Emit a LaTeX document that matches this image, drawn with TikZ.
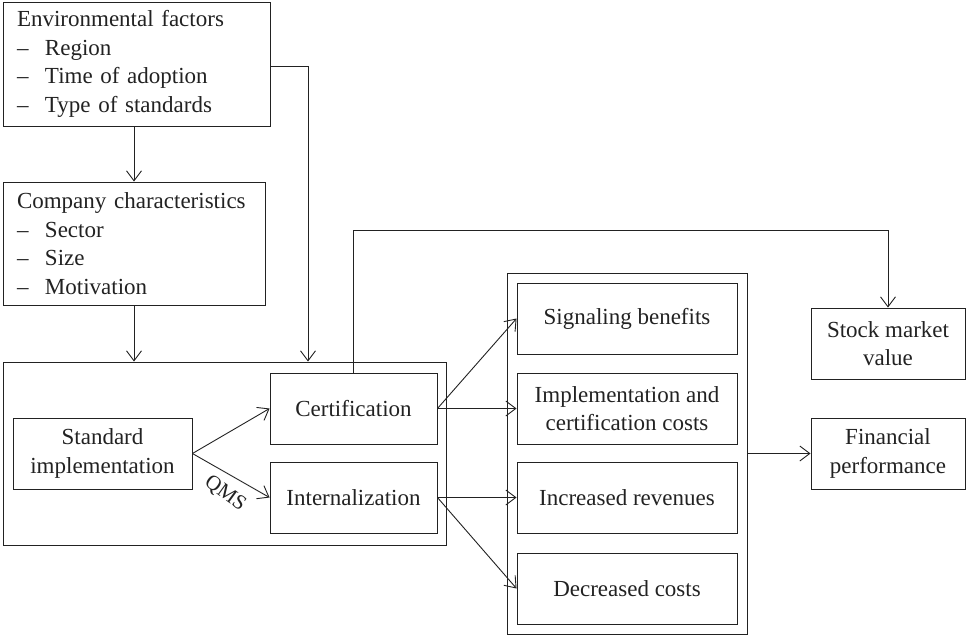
\documentclass[tikz,border=0pt]{standalone}
\usepackage{fontspec}
\setmainfont{Liberation Serif}
\usetikzlibrary{arrows.meta}
\definecolor{ink}{HTML}{222222}
\begin{document}
\begin{tikzpicture}[x=1pt,y=-1pt,
  every node/.style={font=\fontsize{23}{28.5}\selectfont, text=ink},
  box/.style={draw=ink, line width=0.9pt, inner sep=0pt, align=center, minimum height=71pt},
  listbox/.style={draw=ink, line width=0.9pt, align=left, inner xsep=14pt, inner ysep=0pt},
  arr/.style={draw=ink, line width=0.9pt, -{Straight Barb[length=10pt,width=15pt,line width=0.9pt]}},
]
\useasboundingbox (0,0) rectangle (966,635);
\newcommand{\dashitem}[1]{\makebox[28pt][l]{\textendash}#1}

% context boxes on the left
\node[listbox, text width=239pt, minimum height=124pt] (env) at (136.5,64)
  {Environmental factors\\ \dashitem{Region}\\ \dashitem{Time of adoption}\\ \dashitem{Type of standards}};
\node[listbox, text width=234pt, minimum height=123pt] (comp) at (134,243.5)
  {Company characteristics\\ \dashitem{Sector}\\ \dashitem{Size}\\ \dashitem{Motivation}};

% implementation frame
\node[box, minimum width=443pt, minimum height=183pt] (frame) at (224.5,453.5) {};
\node[box, minimum width=179pt] (std) at (102.5,453.5) {Standard\\implementation};
\node[box, minimum width=167pt] (cert) at (353.5,408.5) {Certification};
\node[box, minimum width=167pt] (intern) at (353.5,497.5) {Internalization};

% effects frame
\node[box, minimum width=240pt, minimum height=361pt] (effects) at (627,453.5) {};
\node[box, minimum width=220pt] (sig) at (627,318.5) {Signaling benefits};
\node[box, minimum width=220pt] (impl) at (627,408.5) {Implementation and\\certification costs};
\node[box, minimum width=220pt] (rev) at (627,497.5) {Increased revenues};
\node[box, minimum width=220pt] (dec) at (627,588.5) {Decreased costs};

% outcomes
\node[box, minimum width=154pt] (stock) at (888,343.5) {Stock market\\value};
\node[box, minimum width=154pt] (fin) at (888,453.5) {Financial\\performance};

% routing points
\coordinate (envdrop) at (308,66);
\coordinate (topline) at (0,230);

% connectors
\draw[arr] (env.south -| comp.north) -- (comp.north);
\draw[arr] (comp.south) -- (comp.south |- frame.north);
\draw[arr] (env.east |- envdrop) -- (envdrop) -- (envdrop |- frame.north);
\draw[arr] (cert.north) -- (cert.north |- topline) -- (stock.north |- topline) -- (stock.north);

\draw[arr] (std.east) -- (cert.west);
\draw[arr] (std.east) -- (intern.west);
\node[rotate=-36, inner sep=0pt, font=\fontsize{21}{24}\selectfont] (qms) at (225,494) {QMS};

\draw[arr] (cert.east) -- (sig.west);
\draw[arr] (cert.east) -- (impl.west);
\draw[arr] (intern.east) -- (rev.west);
\draw[arr] (intern.east) -- (dec.west);

\draw[arr] (effects.east) -- (fin.west);
\end{tikzpicture}
\end{document}
